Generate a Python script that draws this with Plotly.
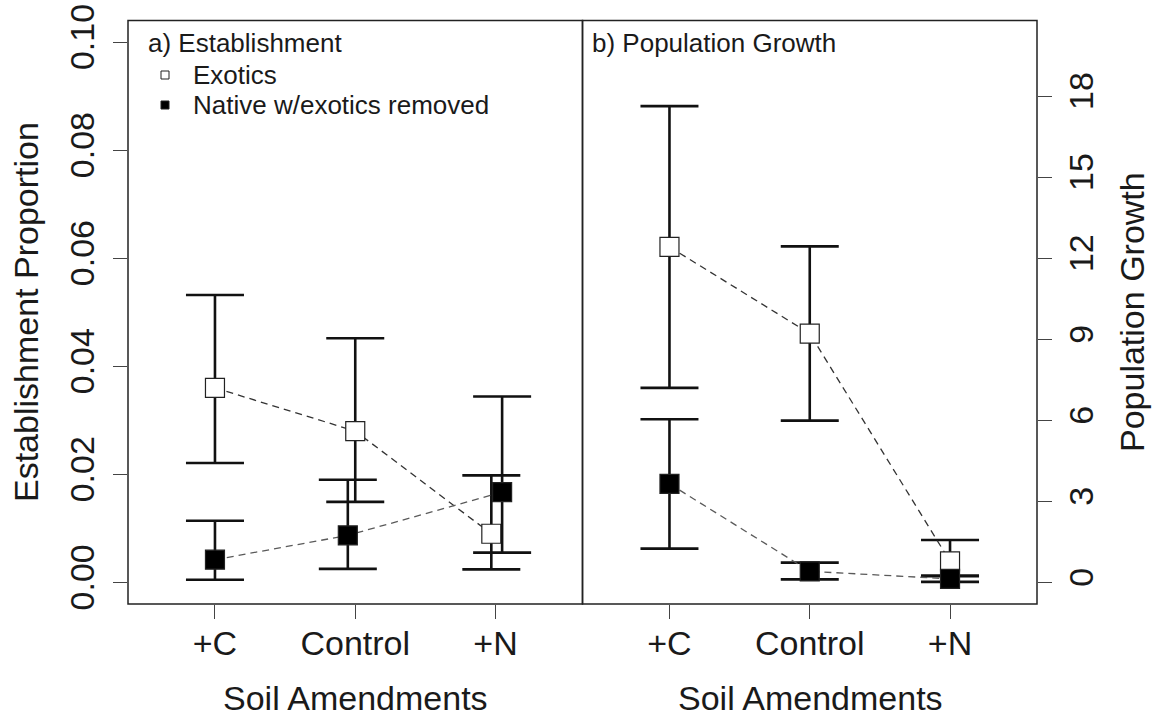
import plotly.graph_objects as go

# Soil amendment treatments (x categories)
amendments = ["+C", "Control", "+N"]

# a) Establishment proportion: mean with lower / upper interval bounds
estab_exotic = [0.0360, 0.0280, 0.0090]
estab_exotic_lo = [0.0221, 0.0149, 0.0024]
estab_exotic_hi = [0.0532, 0.0452, 0.0198]

estab_native = [0.0042, 0.0087, 0.0167]
estab_native_lo = [0.0005, 0.0025, 0.0055]
estab_native_hi = [0.0114, 0.0190, 0.0344]

# b) Population growth: mean with lower / upper interval bounds
growth_exotic = [12.42, 9.21, 0.78]
growth_exotic_lo = [7.20, 5.99, 0.25]
growth_exotic_hi = [17.63, 12.44, 1.57]

growth_native = [3.65, 0.41, 0.13]
growth_native_lo = [1.25, 0.11, 0.02]
growth_native_hi = [6.04, 0.73, 0.23]

# y tick values
estab_ticks = [0.00, 0.02, 0.04, 0.06, 0.08, 0.10]
growth_ticks = [0, 3, 6, 9, 12, 15, 18]

# small horizontal dodge so overlapping intervals stay readable
dodge_exotic_a = [0.0, 0.0, -0.03]
dodge_native_a = [0.0, -0.053, 0.047]

W, H = 1154, 719
FONT = "Liberation Sans, Arial, Helvetica, sans-serif"
INK = "#1a1a1a"


def px_x(p):
    return p / W


def px_y(p):
    return 1 - p / H


positions = [1, 2, 3]


def err(vals, lo, hi):
    return dict(
        type="data",
        symmetric=False,
        array=[h - v for v, h in zip(vals, hi)],
        arrayminus=[v - l for v, l in zip(vals, lo)],
        color="#111111",
        thickness=2.6,
        width=29,
    )


def series(x, y, lo, hi, fill, line_color, xa, ya):
    return go.Scatter(
        x=x, y=y, xaxis=xa, yaxis=ya,
        mode="lines+markers",
        line=dict(color=line_color, width=1.3, dash="7px,5px"),
        marker=dict(symbol="square", size=19, color=fill,
                    line=dict(color="#222222", width=1.2)),
        error_y=err(y, lo, hi),
        showlegend=False,
        cliponaxis=False,
    )


fig = go.Figure()

xa_ex = [p + d for p, d in zip(positions, dodge_exotic_a)]
xa_na = [p + d for p, d in zip(positions, dodge_native_a)]

fig.add_trace(series(xa_ex, estab_exotic, estab_exotic_lo, estab_exotic_hi,
                     "white", "#333333", "x", "y"))
fig.add_trace(series(xa_na, estab_native, estab_native_lo, estab_native_hi,
                     "black", "#5a5a5a", "x", "y"))
fig.add_trace(series(positions, growth_exotic, growth_exotic_lo, growth_exotic_hi,
                     "white", "#333333", "x2", "y2"))
fig.add_trace(series(positions, growth_native, growth_native_lo, growth_native_hi,
                     "black", "#5a5a5a", "x2", "y2"))

ydom = [px_y(604), px_y(20.5)]
xdom1 = [px_x(128), px_x(582.5)]
xdom2 = [px_x(582.5), px_x(1037)]

tickfont = dict(family=FONT, size=34, color=INK)
xcommon = dict(
    range=[0.38, 3.62], tickmode="array", tickvals=positions, ticktext=amendments,
    ticks="outside", ticklen=14, tickwidth=1.3, tickcolor="#444444",
    showgrid=False, zeroline=False, showline=False, tickfont=tickfont,
    fixedrange=True, automargin=False, ticklabelstandoff=-5,
)
ycommon = dict(
    domain=ydom, tickmode="array",
    ticks="outside", ticklen=14, tickwidth=1.3, tickcolor="#444444",
    tickangle=-90, tickfont=tickfont,
    showgrid=False, zeroline=False, showline=False, automargin=False,
)

fig.update_layout(
    width=W, height=H,
    margin=dict(l=0, r=0, t=0, b=0, pad=0, autoexpand=False),
    paper_bgcolor="white", plot_bgcolor="white",
    showlegend=False,
    xaxis=dict(domain=xdom1, anchor="y", **xcommon),
    xaxis2=dict(domain=xdom2, anchor="y2", **xcommon),
    yaxis=dict(
        anchor="x", range=[-0.004, 0.104], tickvals=estab_ticks,
        ticktext=[f"{v:.2f}" for v in estab_ticks], ticklabelstandoff=5,
        **ycommon,
    ),
    yaxis2=dict(
        anchor="x2", side="right", range=[-0.8, 20.8], tickvals=growth_ticks,
        ticktext=[str(v) for v in growth_ticks], **ycommon,
    ),
)

# panel frames
for xr, yr in (("x domain", "y domain"), ("x2 domain", "y2 domain")):
    fig.add_shape(type="rect", xref=xr, yref=yr, x0=0, x1=1, y0=0, y1=1,
                  line=dict(color="#222222", width=1.5), layer="above")

# legend keys
for cy, fill in ((75, "white"), (105, "black")):
    fig.add_shape(type="rect", xref="paper", yref="paper",
                  x0=px_x(161), x1=px_x(169), y0=px_y(cy + 4), y1=px_y(cy - 4),
                  line=dict(color="#222222", width=1), fillcolor=fill)

small = dict(family=FONT, size=26, color=INK)
big = dict(family=FONT, size=34, color=INK)

texts = [
    ("a) Establishment", 146, 43, small, "left", 0),
    ("Exotics", 191, 75, small, "left", 0),
    ("Native w/exotics removed", 191, 105, small, "left", 0),
    ("b) Population Growth", 590, 43, small, "left", 0),
    ("Soil Amendments", 355, 698, big, "center", 0),
    ("Soil Amendments", 810, 698, big, "center", 0),
    ("Establishment Proportion", 26, 312, big, "center", -90),
    ("Population Growth", 1132, 312, big, "center", -90),
]
for txt, x, y, f, anchor, ang in texts:
    fig.add_annotation(text=txt, xref="paper", yref="paper",
                       x=px_x(x), y=px_y(y), xanchor=anchor, yanchor="middle",
                       showarrow=False, font=f, textangle=ang)

fig.write_html("out.html")
